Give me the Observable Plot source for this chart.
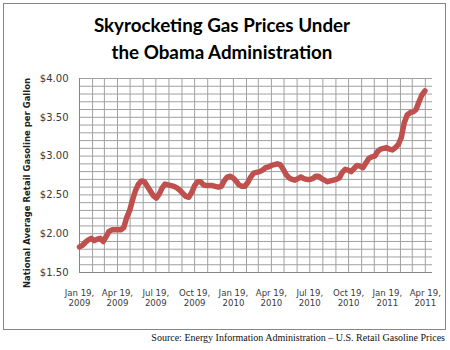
<!DOCTYPE html>
<html>
<head>
<meta charset="utf-8">
<script src="https://cdn.jsdelivr.net/npm/d3@7"></script>
<script src="https://cdn.jsdelivr.net/npm/@observablehq/plot@0.6"></script>
<style>
  html, body { margin: 0; padding: 0; background: #fff; }
  #wrap { position: relative; width: 450px; height: 350px; overflow: hidden; background: #fff; }
  #box { position: absolute; left: 3px; top: 3px; width: 441px; height: 325px; border: 1px solid #868686; }
  #title { position: absolute; left: 0; top: 11px; width: 444px; text-align: center;
           font-family: Lato, "Open Sans", sans-serif; font-weight: bold; font-size: 18.8px; line-height: 27px; color: #000; }
  #ylabel { position: absolute; left: 27px; top: 183px; transform: translate(-50%, -50%) rotate(-90deg);
            white-space: nowrap; font-family: "DejaVu Sans", sans-serif; font-weight: bold; font-size: 8.5px; color: #222; }
  #source { position: absolute; right: 5px; top: 332px; white-space: nowrap;
            font-family: "Liberation Serif", serif; font-size: 10px; color: #111; }
  #chart { position: absolute; left: 0; top: 0; }
</style>
</head>
<body>
<div id="wrap">
  <div id="box"></div>
  <div id="chart"></div>
  <div id="title">Skyrocketing Gas Prices Under<br>the Obama Administration</div>
  <div id="ylabel">National Average Retail Gasoline per Gallon</div>
  <div id="source">Source: Energy Information Administration – U.S. Retail Gasoline Prices</div>
</div>
<script>
// Weekly national average retail gasoline price ($/gal), starting Mon Jan 19, 2009
const startDate = "2009-01-19";
const prices = [
  1.83, 1.85, 1.89, 1.92, 1.94, 1.91, 1.93, 1.94, 1.90, 1.96,
  2.03, 2.05, 2.05, 2.05, 2.05, 2.08, 2.21, 2.30, 2.44, 2.56,
  2.64, 2.68, 2.67, 2.61, 2.55, 2.49, 2.46, 2.51, 2.59, 2.64,
  2.63, 2.62, 2.61, 2.59, 2.56, 2.52, 2.48, 2.47, 2.53, 2.62,
  2.67, 2.67, 2.63, 2.62, 2.62, 2.62, 2.61, 2.60, 2.61, 2.68,
  2.73, 2.74, 2.72, 2.68, 2.63, 2.61, 2.61, 2.66, 2.73, 2.78,
  2.79, 2.80, 2.82, 2.85, 2.86, 2.88, 2.89, 2.90, 2.89, 2.83,
  2.76, 2.72, 2.70, 2.69, 2.71, 2.73, 2.71, 2.70, 2.70, 2.71,
  2.74, 2.74, 2.71, 2.69, 2.67, 2.68, 2.69, 2.70, 2.72, 2.79,
  2.83, 2.82, 2.80, 2.84, 2.88, 2.87, 2.85, 2.91, 2.97, 2.99,
  3.00, 3.06, 3.09, 3.10, 3.11, 3.09, 3.08, 3.11, 3.15, 3.24,
  3.43, 3.53, 3.56, 3.57, 3.60, 3.70, 3.79, 3.84
];

const xTickDates = ["2009-01-19","2009-04-19","2009-07-19","2009-10-19","2010-01-19",
                    "2010-04-19","2010-07-19","2010-10-19","2011-01-19","2011-04-19"];
const xTickLabels = ["Jan 19,\n2009","Apr 19,\n2009","Jul 19,\n2009","Oct 19,\n2009","Jan 19,\n2010",
                     "Apr 19,\n2010","Jul 19,\n2010","Oct 19,\n2010","Jan 19,\n2011","Apr 19,\n2011"];
const yTicks = [1.5, 2.0, 2.5, 3.0, 3.5, 4.0];
const xDomain = ["2009-01-19", "2011-05-06"];

const start = new Date(startDate);
const data = prices.map((p, i) => ({date: d3.utcDay.offset(start, 7 * i), price: p}));
const tickDates = xTickDates.map(d => new Date(d));
const labelByTime = new Map(tickDates.map((d, i) => [d.getTime(), xTickLabels[i]]));
const monthGrid = d3.utcMonth.range(new Date("2009-01-01"), new Date("2011-05-01"))
  .map(m => d3.utcDay.offset(m, 18));
const minorY = d3.range(15, 41).map(v => v / 10);

const chart = Plot.plot({
  width: 450,
  height: 350,
  marginLeft: 79,
  marginRight: 18,
  marginTop: 78,
  marginBottom: 78,
  style: {fontFamily: "DejaVu Sans, sans-serif", background: "transparent", color: "#333"},
  x: {type: "utc", domain: xDomain.map(d => new Date(d))},
  y: {domain: [1.5, 4.0]},
  marks: [
    Plot.gridY(minorY, {stroke: "#a0a0a0", strokeOpacity: 1}),
    Plot.gridX(monthGrid, {stroke: "#a0a0a0", strokeOpacity: 1}),
    Plot.ruleX([new Date(xDomain[0])], {stroke: "#868686"}),
    Plot.ruleY([1.5], {stroke: "#868686"}),
    Plot.axisY(yTicks, {tickFormat: d => "$" + d.toFixed(2), tickSize: 0, tickPadding: 11,
                        fontSize: 10, fill: "#3a3a3a", label: null}),
    Plot.axisX(tickDates, {tickFormat: d => labelByTime.get(d.getTime()), tickSize: 0, tickPadding: 16,
                           fontSize: 8.6, lineHeight: 1.2, fill: "#3a3a3a", label: null}),
    Plot.line(data, {x: "date", y: "price", stroke: "#C0504D", strokeWidth: 5.5,
                     strokeLinejoin: "round", strokeLinecap: "round"})
  ]
});
document.getElementById("chart").appendChild(chart);
</script>
</body>
</html>
